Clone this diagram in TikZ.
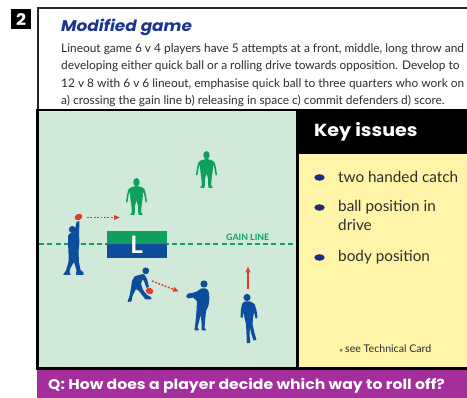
\documentclass[tikz,border=0pt]{standalone}
\usepackage{fontspec}
\setmainfont{Lato}
\newfontfamily\dispfont{Poppins}[FakeStretch=1.09]
\newfontfamily\qfont{Poppins}[FakeStretch=1.12]
\usetikzlibrary{arrows.meta}

\definecolor{fieldgreen}{RGB}{208,233,217}
\definecolor{keyyellow}{RGB}{255,245,168}
\definecolor{qpurple}{RGB}{164,46,156}
\definecolor{titleblue}{RGB}{27,52,140}
\definecolor{playerblue}{RGB}{14,76,156}
\definecolor{playergreen}{RGB}{14,160,92}
\definecolor{ballred}{RGB}{230,58,46}
\definecolor{bulletnavy}{RGB}{26,44,128}
\definecolor{bodygrey}{RGB}{45,45,45}

\tikzset{
  bodytext/.style={anchor=base west, inner sep=0pt, text=bodygrey, font=\fontsize{11.9}{13}\selectfont},
  keytext/.style={anchor=base west, inner sep=0pt, text=bodygrey, font=\fontsize{15.3}{18}\selectfont},
  bulletdot/.style={fill=bulletnavy, draw=none},
  passline/.style={ballred, line width=1.5pt, dash pattern=on 1.8pt off 1.6pt,
    -{Triangle[length=6pt,width=4.5pt]}},
  runline/.style={ballred, line width=1.5pt, -{Triangle[length=6pt,width=4.5pt]}},
  defender/.pic={
    \fill[playergreen] (0,4.2) ellipse [x radius=3.2pt, y radius=4.1pt];
    \fill[playergreen, rounded corners=0.6pt]
      (-1.6,8.2) -- (-6,9.5) -- (-8.2,11.5) -- (-9.3,16) -- (-10.2,21.5) -- (-10.5,24)
      -- (-9.2,24.8) -- (-8.6,21.5) -- (-7.8,16.5) -- (-6.6,13.5) -- (-6.2,19.5)
      -- (-5.2,27) -- (-4.6,34) -- (-6.5,36.8) -- (-1.8,36.8) -- (-1.6,28) -- (0,22.5)
      -- (1.6,28) -- (1.8,36.8) -- (6.5,36.8) -- (4.6,34) -- (5.2,27) -- (6.2,19.5)
      -- (6.6,13.5) -- (7.8,16.5) -- (8.6,21.5) -- (9.2,24.8) -- (10.5,24)
      -- (10.2,21.5) -- (9.3,16) -- (8.2,11.5) -- (6,9.5) -- (1.6,8.2) -- cycle;
  },
}

\begin{document}
\begin{tikzpicture}[x=1pt,y=-1pt]
\useasboundingbox (0,0) rectangle (467,398);

% section number
\fill[black] (11,9) rectangle (31,29);
\node[text=white, font=\dispfont\bfseries\fontsize{16}{16}\selectfont] (num) at (21,19.5) {2};

% header panel
\draw[line width=1.6pt, draw=black!85, fill=white] (38,8) rectangle (475,110);
\node[anchor=base west, inner sep=0pt, text=titleblue,
      font=\dispfont\bfseries\itshape\fontsize{15.5}{16}\selectfont] (title) at (61,32) {Modified game};
\node[bodytext] (l1) at (61,52.7) {Lineout game 6 v 4 players have 5 attempts at a front, middle, long throw and};
\node[bodytext] (l2) at (61,70) {developing either quick ball or a rolling drive towards opposition. Develop to};
\node[bodytext] (l3) at (61,87.3) {12 v 8 with 6 v 6 lineout, emphasise quick ball to three quarters who work on};
\node[bodytext] (l4) at (61,104.3) {a) crossing the gain line b) releasing in space c) commit defenders d) score.};

% frame, pitch and key-issues panel
\fill[black] (36,109.5) rectangle (467,370);
\fill[fieldgreen] (39,111.5) rectangle (296,367);
\fill[keyyellow] (298.5,154) rectangle (467,367);

% question band
\fill[qpurple] (37,370) rectangle (467,398);
\node[anchor=base west, inner sep=0pt, text=white,
      font=\qfont\bfseries\fontsize{14}{14}\selectfont] (question) at (48,390)
  {Q: How does a player decide which way to roll off?};

% key issues
\node[anchor=base west, inner sep=0pt, text=white,
      font=\dispfont\bfseries\fontsize{17.5}{18}\selectfont] (keyhead) at (314,137) {Key issues};
\fill[bulletdot] (319.5,177.5) ellipse [x radius=5.2pt, y radius=3.3pt];
\fill[bulletdot] (319.5,207.5) ellipse [x radius=5.2pt, y radius=3.3pt];
\fill[bulletdot] (319.5,257.5) ellipse [x radius=5.2pt, y radius=3.3pt];
\node[keytext] (k1) at (338,182.7) {two handed catch};
\node[keytext] (k2) at (338,211.7) {ball position in};
\node[keytext] (k2b) at (338,230.7) {drive};
\node[keytext] (k3) at (338,261.7) {body position};
\node[anchor=base west, inner sep=0pt, text=bodygrey, font=\fontsize{10.6}{11}\selectfont]
  (techcard) at (339,352.5) {{\footnotesize$\star$}\,see Technical Card};

% gain line and lineout marker
\draw[playergreen, line width=1.4pt, dash pattern=on 5pt off 3.3pt] (39,244) -- (296,244);
\node[anchor=center, inner sep=0pt, text=playergreen, font=\bfseries\fontsize{8.8}{9}\selectfont]
  (gainlabel) at (247.7,237.5) {GAIN LINE};
\fill[playergreen] (106.7,230.7) rectangle (166.7,244);
\fill[playerblue] (106.7,244) rectangle (166.7,257.7);
\node[text=white, inner sep=0pt, font=\bfseries\fontsize{24}{24}\selectfont] (lbox) at (136.5,244.5) {L};

% defenders
\pic at (136.5,178) {defender};
\pic at (206.5,151) {defender};

% thrower with ball raised
\fill[playerblue] (72.3,229.5) circle[radius=3.5pt];
\fill[playerblue, rounded corners=0.6pt]
  (69.5,233.5) -- (74.5,232) -- (76.5,222) -- (79.5,221) -- (79,234) -- (79.5,242)
  -- (78.5,252) -- (79,262) -- (80.5,270) -- (83.5,272.5) -- (83.5,275) -- (76,275)
  -- (76.5,270) -- (74,262) -- (70.5,268) -- (69.5,272) -- (70.8,275) -- (63,275)
  -- (66,270.5) -- (68.5,262) -- (68.5,253) -- (68,243) -- (68,236) -- cycle;
\fill[ballred, rotate around={25:(78.5,217)}] (78.5,217) ellipse [x radius=4pt, y radius=3pt];

% crouching player over the ball
\fill[playerblue] (145.8,270.8) circle[radius=3.4pt];
\fill[playerblue, rounded corners=0.6pt]
  (139,275) -- (144,274) -- (147,279) -- (149,287) -- (146.5,288) -- (144,281)
  -- (142.5,279.5) -- (141,284) -- (143,290) -- (147,295) -- (151,297) -- (151.5,299.5)
  -- (145.5,299.5) -- (139,291) -- (136,289) -- (132.5,296) -- (131.5,301.5) -- (127.5,302)
  -- (129.5,296) -- (131,288) -- (132,281) -- (134.5,276.5) -- cycle;
\fill[ballred, rotate around={-20:(149.5,291)}] (149.5,291) ellipse [x radius=3.9pt, y radius=3.2pt];

% receiver with hands out
\fill[playerblue] (204,284) circle[radius=3.6pt];
\fill[playerblue, rounded corners=0.6pt]
  (201,288.5) -- (206,288.5) -- (208.5,291) -- (209.5,298) -- (208.5,306) -- (206,311)
  -- (205,322) -- (204.5,328) -- (206.5,330.5) -- (201.5,330.5) -- (201.5,322) -- (200.5,315)
  -- (199,322) -- (197.5,327) -- (199,330.5) -- (194.5,330.5) -- (195.5,322) -- (196.5,311)
  -- (197,301) -- (193,297.5) -- (188,298.5) -- (186,296.5) -- (188,293.5) -- (192,293)
  -- (197,291.5) -- cycle;

% runner on the right
\fill[playerblue] (247,297.5) circle[radius=3.6pt];
\fill[playerblue, rounded corners=0.6pt]
  (244.5,301.5) -- (250.5,301.5) -- (254.5,304) -- (256.5,310) -- (257.5,318) -- (255.5,318.5)
  -- (254,312) -- (253,318) -- (252.5,324) -- (254.5,333) -- (256.5,340) -- (253.5,340.5)
  -- (251,333) -- (250,327) -- (249.5,335) -- (250.5,342.8) -- (246.8,343.2) -- (246.5,334)
  -- (246,324) -- (244.5,318) -- (243.5,312) -- (242.5,318) -- (240.5,317.5) -- (241,309)
  -- (242,304) -- cycle;

% passes and run
\coordinate (p1s) at (87,217.5);
\coordinate (p1e) at (120,217.5);
\coordinate (p2s) at (152,281);
\coordinate (p2e) at (179,291.5);
\coordinate (r1s) at (248,289);
\coordinate (r1e) at (248,266.5);
\draw[passline] (p1s) -- (p1e);
\draw[passline] (p2s) -- (p2e);
\draw[runline] (r1s) -- (r1e);
\end{tikzpicture}
\end{document}
